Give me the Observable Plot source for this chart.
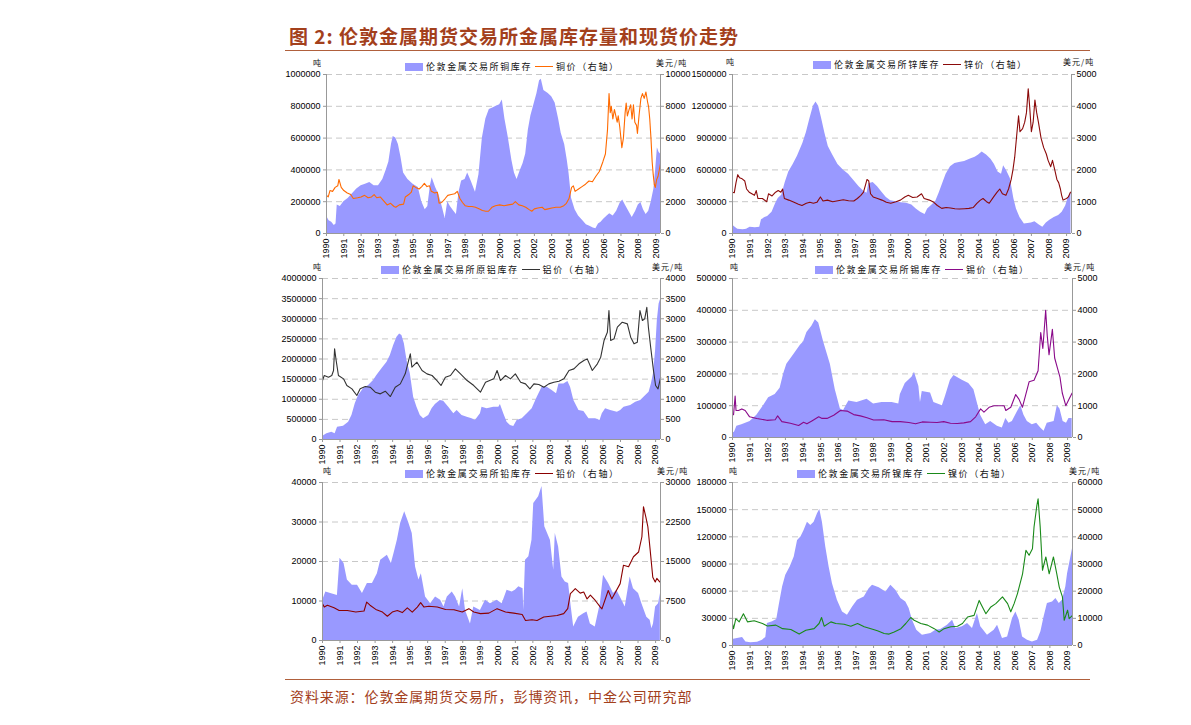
<!DOCTYPE html>
<html><head><meta charset="utf-8">
<script src="https://cdn.jsdelivr.net/npm/d3@7"></script>
<script src="https://cdn.jsdelivr.net/npm/@observablehq/plot@0.6"></script>
<style>
html,body{margin:0;padding:0;background:#fff}
body{width:1191px;height:725px;position:relative;overflow:hidden;font-family:"Liberation Sans",Arial,sans-serif}
.abs{position:absolute;white-space:nowrap}
#title{left:289px;top:22px;font:bold 19px "Noto Sans CJK SC";color:#a3401c;letter-spacing:1px}
.rule{position:absolute;left:285px;width:805px;height:0;border-top:1.5px solid #b0603c}
#source{left:290px;top:686px;font:14px "Noto Sans CJK SC";color:#a3401c;letter-spacing:0.9px}
.leg{position:absolute;white-space:nowrap;font:9px "Noto Sans CJK SC";letter-spacing:1.6px;color:#111;display:flex;align-items:center}
.sw{display:inline-block;width:18px;height:8px;background:#9999ff;margin-right:3px}
.ln{display:inline-block;width:18px;height:0;border-top:1.3px solid;margin:0 3px 0 3px}
.unit{position:absolute;white-space:nowrap;font:8px/10px "Noto Sans CJK SC";letter-spacing:1px;color:#111}
</style></head>
<body>
<div id="title" class="abs">图 2:  伦敦金属期货交易所金属库存量和现货价走势</div>
<div class="rule" style="top:50px"></div>
<div class="rule" style="top:679px"></div>
<div id="source" class="abs">资料来源：伦敦金属期货交易所，彭博资讯，中金公司研究部</div>
<script>
// ---------- data (decimal year, value) ----------
const years = d3.range(1990, 2010);

const copperStock = [[1990.0,110000],[1990.15,80000],[1990.3,70000],[1990.45,50000],[1990.55,60000],[1990.62,180000],[1990.8,170000],[1991.0,200000],[1991.25,220000],[1991.5,250000],[1991.75,280000],[1992.0,300000],[1992.25,310000],[1992.5,320000],[1992.75,300000],[1993.0,300000],[1993.25,340000],[1993.45,400000],[1993.6,450000],[1993.75,560000],[1993.85,610000],[1994.0,600000],[1994.15,560000],[1994.3,480000],[1994.45,380000],[1994.7,340000],[1995.0,310000],[1995.3,290000],[1995.5,200000],[1995.7,150000],[1995.85,170000],[1996.0,300000],[1996.1,350000],[1996.3,290000],[1996.5,240000],[1996.7,160000],[1996.85,95000],[1997.0,200000],[1997.15,170000],[1997.35,140000],[1997.5,120000],[1997.65,260000],[1997.8,330000],[1998.0,340000],[1998.15,380000],[1998.35,330000],[1998.6,260000],[1998.8,370000],[1999.0,600000],[1999.2,720000],[1999.4,780000],[1999.6,790000],[1999.8,800000],[2000.0,810000],[2000.15,840000],[2000.3,720000],[2000.5,600000],[2000.7,460000],[2000.85,380000],[2001.0,340000],[2001.2,400000],[2001.35,440000],[2001.5,500000],[2001.65,650000],[2001.8,740000],[2002.0,820000],[2002.15,880000],[2002.3,960000],[2002.4,970000],[2002.55,900000],[2002.8,880000],[2003.0,860000],[2003.2,820000],[2003.4,720000],[2003.55,630000],[2003.75,560000],[2003.9,460000],[2004.0,380000],[2004.15,220000],[2004.35,150000],[2004.55,110000],[2004.8,80000],[2005.0,55000],[2005.2,45000],[2005.4,35000],[2005.55,30000],[2005.7,60000],[2005.85,70000],[2006.0,90000],[2006.2,110000],[2006.35,125000],[2006.55,110000],[2006.75,140000],[2006.95,190000],[2007.1,210000],[2007.25,180000],[2007.45,140000],[2007.65,100000],[2007.85,140000],[2008.0,180000],[2008.15,195000],[2008.3,150000],[2008.45,120000],[2008.6,140000],[2008.75,200000],[2008.9,280000],[2009.0,400000],[2009.1,540000],[2009.2,510000],[2009.28,500000]];
const copperPrice = [[1990.0,2400],[1990.1,2300],[1990.2,2700],[1990.35,2650],[1990.5,2900],[1990.65,3000],[1990.72,3400],[1990.85,2900],[1991.0,2700],[1991.2,2550],[1991.4,2450],[1991.55,2200],[1991.8,2250],[1992.0,2300],[1992.2,2400],[1992.4,2250],[1992.6,2300],[1992.75,2450],[1992.9,2250],[1993.1,2300],[1993.3,2050],[1993.5,1800],[1993.7,1900],[1993.9,1700],[1994.0,1650],[1994.2,1800],[1994.45,1850],[1994.55,2300],[1994.75,2450],[1994.9,2600],[1995.0,3000],[1995.15,2900],[1995.35,2800],[1995.5,2950],[1995.65,3150],[1995.8,2950],[1995.95,3000],[1996.05,2650],[1996.25,2550],[1996.4,2600],[1996.5,1900],[1996.65,1950],[1996.85,2200],[1997.0,2400],[1997.2,2450],[1997.4,2500],[1997.55,2650],[1997.7,2200],[1997.85,1950],[1998.0,1750],[1998.2,1700],[1998.4,1700],[1998.6,1650],[1998.8,1550],[1999.0,1450],[1999.2,1400],[1999.35,1400],[1999.55,1650],[1999.75,1750],[2000.0,1800],[2000.25,1750],[2000.5,1800],[2000.75,1850],[2000.9,2000],[2001.1,1800],[2001.3,1750],[2001.5,1650],[2001.7,1500],[2001.85,1400],[2002.0,1550],[2002.2,1600],[2002.45,1650],[2002.6,1500],[2002.8,1550],[2003.0,1600],[2003.25,1650],[2003.5,1650],[2003.7,1750],[2003.85,1900],[2004.0,2200],[2004.15,2900],[2004.25,3000],[2004.35,2650],[2004.55,2800],[2004.75,2950],[2004.95,3100],[2005.15,3300],[2005.35,3250],[2005.55,3600],[2005.75,3900],[2005.95,4500],[2006.1,5000],[2006.22,6500],[2006.31,8800],[2006.38,7600],[2006.44,8000],[2006.53,7200],[2006.62,7800],[2006.78,7000],[2006.84,7400],[2006.93,6700],[2007.05,5400],[2007.14,6000],[2007.24,7600],[2007.3,8200],[2007.37,7400],[2007.47,7800],[2007.56,8100],[2007.64,7200],[2007.72,8100],[2007.8,7000],[2007.9,6800],[2007.95,6300],[2008.05,7500],[2008.15,8500],[2008.24,8800],[2008.34,8500],[2008.44,8900],[2008.53,8300],[2008.59,8000],[2008.66,7200],[2008.73,6000],[2008.8,4500],[2008.86,3700],[2008.92,3100],[2008.98,2900],[2009.06,3400],[2009.14,3600],[2009.28,4400]];

const zincStock = [[1990.0,80000],[1990.15,60000],[1990.3,40000],[1990.6,35000],[1990.8,40000],[1991.0,60000],[1991.3,55000],[1991.55,60000],[1991.65,130000],[1991.85,150000],[1992.0,160000],[1992.25,200000],[1992.45,280000],[1992.6,330000],[1992.8,360000],[1993.0,480000],[1993.2,580000],[1993.45,650000],[1993.7,730000],[1994.0,850000],[1994.2,950000],[1994.4,1080000],[1994.6,1200000],[1994.75,1240000],[1994.9,1200000],[1995.05,1100000],[1995.25,950000],[1995.45,820000],[1995.7,740000],[1996.0,650000],[1996.3,600000],[1996.6,560000],[1996.9,500000],[1997.2,440000],[1997.45,400000],[1997.65,380000],[1997.75,470000],[1998.0,480000],[1998.25,440000],[1998.5,390000],[1998.75,340000],[1999.0,310000],[1999.3,300000],[1999.6,290000],[1999.9,285000],[2000.2,270000],[2000.45,230000],[2000.7,200000],[2000.95,180000],[2001.1,230000],[2001.35,270000],[2001.55,300000],[2001.75,380000],[2001.95,470000],[2002.15,560000],[2002.4,630000],[2002.65,660000],[2002.9,670000],[2003.2,680000],[2003.5,700000],[2003.8,720000],[2004.0,740000],[2004.2,770000],[2004.45,740000],[2004.7,700000],[2004.9,650000],[2005.1,580000],[2005.3,560000],[2005.42,640000],[2005.6,590000],[2005.8,520000],[2006.0,330000],[2006.15,230000],[2006.35,150000],[2006.6,90000],[2006.8,95000],[2007.0,100000],[2007.2,110000],[2007.45,80000],[2007.65,60000],[2007.85,100000],[2008.05,125000],[2008.3,150000],[2008.55,170000],[2008.75,200000],[2008.95,260000],[2009.1,340000],[2009.25,390000]];
const zincPrice = [[1990.0,1300],[1990.1,1280],[1990.2,1600],[1990.3,1850],[1990.4,1750],[1990.55,1720],[1990.7,1650],[1990.8,1400],[1990.95,1300],[1991.1,1250],[1991.25,1200],[1991.35,1350],[1991.45,1100],[1991.7,1100],[1991.95,1000],[1992.05,1250],[1992.25,1180],[1992.45,1300],[1992.6,1350],[1992.75,1300],[1992.85,1400],[1992.95,1100],[1993.2,1050],[1993.5,980],[1993.75,920],[1993.95,880],[1994.2,950],[1994.4,980],[1994.6,950],[1994.8,980],[1995.0,1150],[1995.15,1020],[1995.4,1050],[1995.7,1000],[1996.0,1030],[1996.3,1060],[1996.6,1030],[1996.9,1020],[1997.1,1100],[1997.3,1200],[1997.45,1300],[1997.55,1500],[1997.65,1700],[1997.75,1650],[1997.85,1250],[1998.0,1150],[1998.25,1100],[1998.5,1050],[1998.75,980],[1999.0,950],[1999.3,1000],[1999.55,1050],[1999.8,1150],[2000.0,1200],[2000.25,1130],[2000.5,1150],[2000.75,1250],[2000.9,1100],[2001.2,1050],[2001.45,980],[2001.65,880],[2001.9,790],[2002.15,820],[2002.4,800],[2002.65,780],[2002.9,770],[2003.2,780],[2003.45,790],[2003.7,820],[2003.9,950],[2004.1,1050],[2004.25,1100],[2004.45,1000],[2004.6,950],[2004.85,1150],[2005.05,1300],[2005.2,1400],[2005.35,1250],[2005.55,1200],[2005.7,1400],[2005.85,1700],[2005.95,2000],[2006.05,2400],[2006.2,3300],[2006.27,3700],[2006.35,3200],[2006.5,3300],[2006.62,3500],[2006.72,3800],[2006.82,4550],[2006.9,4000],[2007.0,3200],[2007.1,3500],[2007.2,4200],[2007.3,3800],[2007.4,3500],[2007.55,3000],[2007.7,2700],[2007.85,2500],[2007.95,2300],[2008.1,2100],[2008.2,2300],[2008.33,2000],[2008.45,1700],[2008.55,1600],[2008.65,1400],[2008.72,1200],[2008.8,1050],[2008.9,1080],[2009.0,1100],[2009.1,1150],[2009.22,1300]];

const aluStock = [[1990.0,74500],[1990.25,140000],[1990.53,182000],[1990.72,141000],[1990.86,306000],[1991.2,331000],[1991.49,430000],[1991.68,596000],[1991.87,886000],[1992.06,1093000],[1992.34,1258000],[1992.63,1341000],[1992.91,1465000],[1993.1,1589000],[1993.39,1755000],[1993.68,1920000],[1993.87,2086000],[1994.06,2334000],[1994.25,2541000],[1994.4,2624000],[1994.53,2583000],[1994.67,2376000],[1994.82,1962000],[1995.01,1631000],[1995.2,1051000],[1995.39,803000],[1995.58,596000],[1995.77,513000],[1996.06,596000],[1996.25,762000],[1996.44,869000],[1996.72,969000],[1996.91,952000],[1997.2,803000],[1997.49,637000],[1997.68,720000],[1997.96,596000],[1998.25,555000],[1998.53,513000],[1998.72,472000],[1999.01,637000],[1999.1,803000],[1999.39,762000],[1999.77,803000],[2000.06,803000],[2000.15,869000],[2000.34,637000],[2000.53,430000],[2000.72,348000],[2000.91,323000],[2001.1,472000],[2001.39,513000],[2001.68,637000],[2001.96,762000],[2002.25,1051000],[2002.53,1300000],[2002.82,1300000],[2003.1,1217000],[2003.35,1134000],[2003.49,1382000],[2003.77,1382000],[2004.0,1440000],[2004.15,1300000],[2004.34,969000],[2004.63,720000],[2004.91,695000],[2005.2,513000],[2005.58,513000],[2005.83,472000],[2005.96,637000],[2006.15,762000],[2006.44,720000],[2006.82,679000],[2007.01,720000],[2007.2,803000],[2007.58,844000],[2007.87,927000],[2008.15,969000],[2008.44,1093000],[2008.63,1176000],[2008.76,1382000],[2008.88,1631000],[2009.0,2210000],[2009.1,2955000],[2009.2,3369000],[2009.29,3493000]];
const aluPrice = [[1990.0,1465],[1990.1,1590],[1990.34,1548],[1990.53,1590],[1990.63,1714],[1990.69,2252],[1990.78,1962],[1990.91,1590],[1991.2,1507],[1991.39,1341],[1991.68,1258],[1991.96,1093],[1992.15,1258],[1992.44,1316],[1992.72,1300],[1993.01,1175],[1993.3,1134],[1993.58,1200],[1993.87,1068],[1994.15,1300],[1994.44,1382],[1994.72,1631],[1994.91,1962],[1995.01,2127],[1995.1,1796],[1995.39,1920],[1995.68,1714],[1995.96,1631],[1996.25,1590],[1996.53,1465],[1996.76,1341],[1997.01,1548],[1997.3,1590],[1997.58,1755],[1997.87,1631],[1998.25,1465],[1998.63,1341],[1999.01,1175],[1999.3,1424],[1999.77,1507],[1999.96,1714],[2000.15,1465],[2000.44,1590],[2000.72,1507],[2001.0,1631],[2001.3,1424],[2001.58,1382],[2001.83,1258],[2002.06,1382],[2002.34,1366],[2002.63,1300],[2002.91,1382],[2003.2,1424],[2003.49,1449],[2003.77,1507],[2004.06,1714],[2004.34,1755],[2004.63,1880],[2004.91,1962],[2005.1,2003],[2005.39,1714],[2005.68,1880],[2005.87,2045],[2006.06,2459],[2006.25,2666],[2006.34,3204],[2006.44,2459],[2006.63,2500],[2006.82,2790],[2007.1,2914],[2007.39,2873],[2007.58,2541],[2007.77,2376],[2007.96,2417],[2008.11,3204],[2008.25,2955],[2008.38,2997],[2008.5,3286],[2008.59,2790],[2008.72,2293],[2008.88,1714],[2009.0,1341],[2009.14,1258],[2009.29,1548]];

const tinStock = [[1990.0,20000],[1990.1,15000],[1990.25,35000],[1990.53,40000],[1991.0,50000],[1991.38,70000],[1991.76,100000],[1992.05,125000],[1992.42,135000],[1992.7,155000],[1992.9,200000],[1993.08,230000],[1993.47,260000],[1993.85,290000],[1994.03,300000],[1994.22,330000],[1994.5,350000],[1994.7,370000],[1994.89,360000],[1995.17,300000],[1995.55,230000],[1995.83,150000],[1996.12,90000],[1996.3,85000],[1996.6,115000],[1997.06,110000],[1997.63,120000],[1998.0,105000],[1998.48,110000],[1999.05,110000],[1999.43,105000],[1999.52,135000],[1999.8,170000],[2000.19,190000],[2000.32,205000],[2000.57,160000],[2000.66,110000],[2000.76,145000],[2001.23,140000],[2001.42,110000],[2001.9,100000],[2002.08,130000],[2002.36,180000],[2002.56,195000],[2003.03,180000],[2003.4,170000],[2003.69,150000],[2003.88,110000],[2004.07,70000],[2004.36,40000],[2004.64,50000],[2005.02,35000],[2005.3,30000],[2005.5,60000],[2005.68,45000],[2005.87,50000],[2006.15,80000],[2006.35,100000],[2006.53,70000],[2006.72,50000],[2007.0,40000],[2007.25,45000],[2007.48,30000],[2007.67,20000],[2007.85,45000],[2008.24,50000],[2008.42,100000],[2008.57,90000],[2008.75,50000],[2008.94,45000],[2009.08,60000],[2009.26,60000]];
const tinPrice = [[1990.0,716],[1990.06,720],[1990.15,1300],[1990.2,850],[1990.34,850],[1990.53,900],[1990.72,850],[1990.97,650],[1991.38,600],[1991.95,540],[1992.42,560],[1992.56,680],[1992.8,500],[1993.28,450],[1993.75,380],[1994.03,480],[1994.22,430],[1994.5,520],[1994.89,650],[1995.08,600],[1995.36,600],[1995.74,700],[1996.12,850],[1996.5,830],[1996.87,720],[1997.25,680],[1997.63,620],[1998.0,550],[1998.58,560],[1999.05,500],[1999.52,500],[2000.0,470],[2000.38,430],[2000.76,490],[2001.23,480],[2001.6,470],[2001.98,500],[2002.36,450],[2002.75,440],[2003.12,460],[2003.5,500],[2003.79,650],[2004.07,900],[2004.26,800],[2004.55,950],[2004.83,1000],[2005.2,1000],[2005.4,1000],[2005.5,850],[2005.78,950],[2006.06,1350],[2006.25,1200],[2006.44,950],[2006.63,1350],[2006.82,1750],[2007.1,1800],[2007.33,2100],[2007.48,3300],[2007.6,2800],[2007.76,4000],[2007.85,3200],[2007.95,2600],[2008.14,3400],[2008.27,2500],[2008.42,2200],[2008.57,1900],[2008.7,1400],[2008.9,1000],[2009.08,1200],[2009.26,1400]];

const leadStock = [[1990.0,10000],[1990.19,12300],[1990.47,11900],[1990.85,11400],[1991.0,20800],[1991.23,19500],[1991.42,15300],[1991.7,14000],[1992.0,14000],[1992.28,11900],[1992.56,14400],[1992.85,14400],[1993.13,16900],[1993.32,20300],[1993.7,21600],[1993.93,19500],[1994.08,22000],[1994.27,25400],[1994.46,29700],[1994.69,32600],[1994.93,29700],[1995.12,27100],[1995.31,18600],[1995.5,15300],[1995.64,16900],[1995.88,11000],[1996.17,9300],[1996.45,11000],[1996.74,10200],[1996.93,8500],[1997.12,11000],[1997.4,12300],[1997.59,11000],[1997.82,8500],[1998.0,13100],[1998.16,7600],[1998.44,4200],[1998.63,8500],[1999.01,7600],[1999.3,10200],[1999.58,9300],[1999.96,10200],[2000.25,9300],[2000.53,12700],[2000.82,12300],[2001.0,12700],[2001.2,13600],[2001.44,13100],[2001.48,7600],[2001.58,20300],[2001.77,21200],[2001.95,25400],[2002.05,34700],[2002.33,36400],[2002.52,39000],[2002.68,28800],[2003.0,25400],[2003.19,17800],[2003.28,27100],[2003.47,23700],[2003.66,16100],[2003.85,14800],[2004.04,14400],[2004.19,8500],[2004.33,3400],[2004.6,5900],[2004.9,6800],[2005.09,7200],[2005.28,4200],[2005.56,3400],[2005.85,9300],[2006.03,16500],[2006.32,14400],[2006.6,11900],[2006.79,12700],[2007.08,10200],[2007.27,8500],[2007.55,16100],[2007.74,13100],[2008.03,11900],[2008.22,9300],[2008.5,5900],[2008.69,5100],[2008.79,3000],[2008.88,4200],[2009.0,8500],[2009.17,9300],[2009.27,11900]];
const leadPrice = [[1990.0,7000],[1990.1,6350],[1990.28,6700],[1990.66,6200],[1990.95,5700],[1991.42,5700],[1991.9,5400],[1992.37,5600],[1992.52,7300],[1992.71,6700],[1993.04,5900],[1993.42,5400],[1993.7,4600],[1993.98,5400],[1994.27,5700],[1994.55,5300],[1994.84,6200],[1995.12,5400],[1995.41,6350],[1995.6,7200],[1995.79,6350],[1996.07,6500],[1996.55,6350],[1997.02,5900],[1997.5,5850],[1997.97,5400],[1998.35,6050],[1998.63,5400],[1999.01,5100],[1999.49,5200],[1999.96,6050],[2000.44,5400],[2000.91,5200],[2001.39,4950],[2001.58,3800],[2001.95,3950],[2002.24,3800],[2002.62,4450],[2003.0,4600],[2003.38,4750],[2003.76,5100],[2003.99,6050],[2004.14,8900],[2004.23,9200],[2004.42,9850],[2004.7,9000],[2004.9,9200],[2005.09,7900],[2005.28,8600],[2005.56,7600],[2005.85,6350],[2005.94,6000],[2006.3,9500],[2006.5,7900],[2006.98,10800],[2007.17,14300],[2007.46,14000],[2007.74,15900],[2008.03,16800],[2008.22,19700],[2008.31,25400],[2008.44,23500],[2008.56,21600],[2008.69,17200],[2008.84,12000],[2008.98,11100],[2009.07,11800],[2009.25,11100]];

const nickelStock = [[1990.0,6600],[1990.28,7700],[1990.57,8800],[1990.76,4000],[1991.04,2900],[1991.42,3700],[1991.7,5900],[1991.89,8800],[1991.98,24200],[1992.27,26100],[1992.51,28600],[1992.65,44400],[1992.84,64600],[1993.02,77500],[1993.27,86700],[1993.5,97700],[1993.69,116000],[1993.88,119700],[1994.06,127000],[1994.25,136200],[1994.44,132600],[1994.63,136200],[1994.82,145400],[1994.95,150200],[1995.1,136200],[1995.29,108700],[1995.48,86700],[1995.67,68300],[1995.95,49900],[1996.24,37100],[1996.52,33400],[1996.81,42600],[1997.09,49900],[1997.47,53600],[1997.75,62800],[1997.94,66500],[1998.32,63900],[1998.7,59100],[1998.98,66500],[1999.26,61000],[1999.55,51800],[1999.83,48100],[2000.02,40800],[2000.21,27900],[2000.45,16900],[2000.77,11400],[2001.25,13200],[2001.53,16900],[2001.81,17600],[2002.19,22400],[2002.48,27900],[2002.67,18700],[2003.04,20600],[2003.33,24200],[2003.61,18700],[2003.89,35300],[2004.08,20600],[2004.46,11400],[2004.84,16900],[2005.03,22400],[2005.31,7700],[2005.6,9500],[2005.88,29700],[2006.07,37100],[2006.26,27900],[2006.45,9500],[2006.73,5900],[2007.01,4000],[2007.3,5900],[2007.49,15100],[2007.67,31600],[2007.86,46300],[2008.15,48100],[2008.34,51800],[2008.53,46300],[2008.71,49900],[2008.9,64600],[2009.0,79300],[2009.15,94000],[2009.28,106800]];
const nickelPrice = [[1990.0,8100],[1990.06,6200],[1990.19,9900],[1990.38,8700],[1990.62,11700],[1990.85,8700],[1991.23,9100],[1991.7,8100],[1991.98,7200],[1992.46,7500],[1992.84,6200],[1993.31,5900],[1993.78,4200],[1994.16,5600],[1994.63,6200],[1994.91,8100],[1995.05,10300],[1995.2,7100],[1995.58,8700],[1995.86,8100],[1996.33,7800],[1996.71,7100],[1997.09,8100],[1997.47,6900],[1997.85,6200],[1998.22,5400],[1998.6,4400],[1998.88,4200],[1999.17,5000],[1999.55,6200],[1999.83,8100],[2000.11,10300],[2000.3,9300],[2000.68,8100],[2001.06,7500],[2001.44,6200],[2001.72,5000],[2002.0,6200],[2002.38,6900],[2002.76,7100],[2003.04,8100],[2003.33,10500],[2003.7,11100],[2003.99,16600],[2004.08,15400],[2004.37,11700],[2004.65,14200],[2004.93,15400],[2005.31,17900],[2005.6,15400],[2005.78,12400],[2005.97,15400],[2006.16,19100],[2006.45,26400],[2006.64,35000],[2006.82,33200],[2007.01,35600],[2007.1,43600],[2007.26,51500],[2007.33,54000],[2007.45,43600],[2007.58,27700],[2007.77,32600],[2007.96,26400],[2008.2,32600],[2008.39,26400],[2008.53,21500],[2008.71,17900],[2008.81,9300],[2009.0,13000],[2009.09,9900],[2009.28,11100]];

// ---------- panel configuration ----------
const panels = [
  {stock: copperStock, price: copperPrice, leftMax: 1000000, leftStep: 200000, rightMax: 10000, color: "#ff6a00",
   stockName: "伦敦金属交易所铜库存", priceName: "铜价（右轴）",
   x1: 326, x2: 660, y1: 74, y2: 233, legX: 405, legY: 60, uL: [313, 58], uR: [656, 58]},
  {stock: zincStock, price: zincPrice, leftMax: 1500000, leftStep: 300000, rightMax: 5000, color: "#8b0a0a",
   stockName: "伦敦金属交易所锌库存", priceName: "锌价（右轴）",
   x1: 732, x2: 1071, y1: 74, y2: 233, legX: 813, legY: 58, uL: [726, 57], uR: [1063, 57]},
  {stock: aluStock, price: aluPrice, leftMax: 4000000, leftStep: 500000, rightMax: 4000, color: "#333333",
   stockName: "伦敦金属交易所原铝库存", priceName: "铝价（右轴）",
   x1: 322, x2: 660, y1: 278, y2: 439, legX: 381, legY: 263, uL: [313, 262], uR: [652, 262]},
  {stock: tinStock, price: tinPrice, leftMax: 500000, leftStep: 100000, rightMax: 5000, color: "#8a0a8a",
   stockName: "伦敦金属交易所锡库存", priceName: "锡价（右轴）",
   x1: 732, x2: 1072, y1: 278, y2: 437, legX: 815, legY: 263, uL: [730, 262], uR: [1064, 262]},
  {stock: leadStock, price: leadPrice, leftMax: 40000, leftStep: 10000, rightMax: 30000, color: "#8b0000",
   stockName: "伦敦金属交易所铅库存", priceName: "铅价（右轴）",
   x1: 322, x2: 660, y1: 482, y2: 640, legX: 405, legY: 467, uL: [323, 466], uR: [657, 466]},
  {stock: nickelStock, price: nickelPrice, leftMax: 180000, leftStep: 30000, rightMax: 60000, color: "#1a8a1a",
   stockName: "伦敦金属交易所镍库存", priceName: "镍价（右轴）",
   x1: 732, x2: 1072, y1: 482, y2: 645, legX: 797, legY: 467, uL: [729, 466], uR: [1069, 466]}
];

const X_END = 2009.28;
const toDate = y => { const yr = Math.floor(y); const s = Date.UTC(yr, 0, 1), e = Date.UTC(yr + 1, 0, 1); return new Date(s + (y - yr) * (e - s)); };
const rows = arr => arr.map(([t, v]) => ({date: toDate(t), v}));
const yearDates = years.map(y => new Date(Date.UTC(y, 0, 1)));

function drawPanel(p) {
  const k = p.leftMax / p.rightMax;
  const ticks = d3.range(0, p.leftMax + p.leftStep / 2, p.leftStep);
  const ml = 50, mr = 50, mt = 6, mb = 30;
  const width = p.x2 - p.x1 + ml + mr, height = p.y2 - p.y1 + mt + mb;
  const d0 = toDate(1990), d1 = toDate(X_END);
  const svg = Plot.plot({
    width, height, marginLeft: ml, marginRight: mr, marginTop: mt, marginBottom: mb,
    style: {fontSize: "9px", fontFamily: "Liberation Sans, Arial, sans-serif", background: "transparent", overflow: "visible", color: "#000"},
    x: {type: "utc", domain: [d0, d1]},
    y: {domain: [0, p.leftMax]},
    marks: [
      Plot.gridY(ticks.slice(1), {stroke: "#c8c8c8", strokeOpacity: 1, strokeDasharray: "6,4"}),
      Plot.areaY(rows(p.stock), {x: "date", y: "v", fill: "#9999ff"}),
      Plot.lineY(rows(p.price), {x: "date", y: d => d.v * k, stroke: p.color, strokeWidth: 1.1}),
      Plot.ruleX([d0, d1], {stroke: "#999", strokeWidth: 1}),
      Plot.ruleY([0], {stroke: "#999", strokeWidth: 1}),
      Plot.axisY(ticks, {anchor: "left", tickSize: 3, tickPadding: 3, stroke: "#999", label: null, tickFormat: d => String(d)}),
      Plot.axisY(ticks, {anchor: "right", tickSize: 3, tickPadding: 2, stroke: "#999", label: null, tickFormat: d => String(Math.round(d / k))}),
      Plot.axisX(yearDates, {tickRotate: -90, tickSize: 3, tickPadding: 2, stroke: "#999", label: null, tickFormat: d => String(d.getUTCFullYear())})
    ]
  });
  svg.style.position = "absolute";
  svg.style.left = (p.x1 - ml) + "px";
  svg.style.top = (p.y1 - mt) + "px";
  document.body.appendChild(svg);

  const leg = document.createElement("div");
  leg.className = "leg";
  leg.style.left = p.legX + "px";
  leg.style.top = p.legY + "px";
  leg.innerHTML = `<span class="sw"></span><span>${p.stockName}</span><span class="ln" style="border-color:${p.color}"></span><span>${p.priceName}</span>`;
  document.body.appendChild(leg);

  const ul = document.createElement("div");
  ul.className = "unit"; ul.textContent = "吨";
  ul.style.left = p.uL[0] + "px"; ul.style.top = p.uL[1] + "px";
  document.body.appendChild(ul);
  const ur = document.createElement("div");
  ur.className = "unit"; ur.textContent = "美元/吨";
  ur.style.left = p.uR[0] + "px"; ur.style.top = p.uR[1] + "px";
  document.body.appendChild(ur);
}
panels.forEach(drawPanel);
</script>
</body></html>
